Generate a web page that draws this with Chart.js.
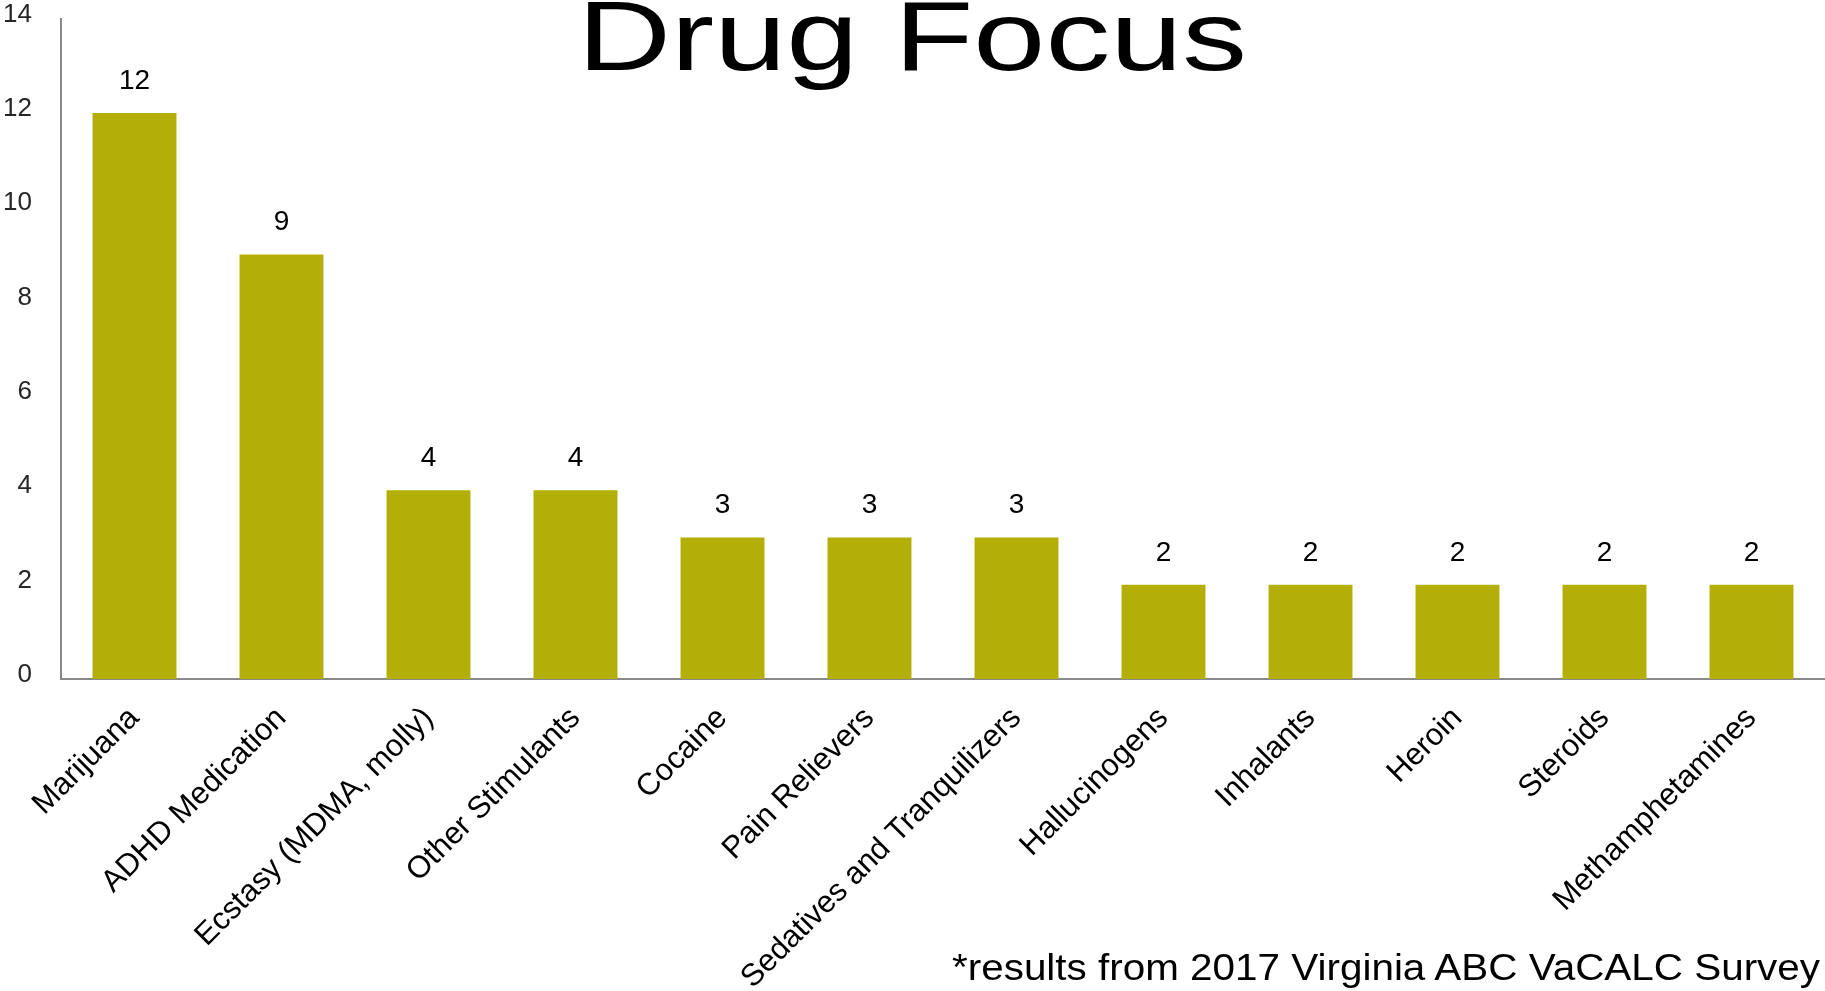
<!DOCTYPE html>
<html>
<head>
<meta charset="utf-8">
<title>Drug Focus</title>
<script src="https://cdn.jsdelivr.net/npm/chart.js@4.4.0/dist/chart.umd.min.js"></script>
<style>
  html, body { margin: 0; padding: 0; background: #fff; overflow: hidden; }
  #wrap { position: relative; width: 1825px; height: 991px; }
  #title {
    position: absolute; left: 0; top: -13px; width: 1825px;
    text-align: center; white-space: nowrap;
    font-family: "Liberation Sans", Arial, sans-serif; font-size: 98px; line-height: 1;
    color: #000; pointer-events: none;
  }
  #title span, #note span { display: inline-block; }
  #note {
    position: absolute; right: 5px; top: 950px; white-space: nowrap;
    font-family: "Liberation Sans", Arial, sans-serif; font-size: 36px; line-height: 1;
    color: #000; pointer-events: none;
  }
</style>
</head>
<body>
<div id="wrap">
  <canvas id="drugChart"></canvas>
  <div id="title"><span>Drug Focus</span></div>
  <div id="note"><span>*results from 2017 Virginia ABC VaCALC Survey</span></div>
</div>
<script>
const categories = [
  "Marijuana",
  "ADHD Medication",
  "Ecstasy (MDMA, molly)",
  "Other Stimulants",
  "Cocaine",
  "Pain Relievers",
  "Sedatives and Tranquilizers",
  "Hallucinogens",
  "Inhalants",
  "Heroin",
  "Steroids",
  "Methamphetamines"
];
const counts = [12, 9, 4, 4, 3, 3, 3, 2, 2, 2, 2, 2];
const yTicks = [0, 2, 4, 6, 8, 10, 12, 14];

// the title and footnote in the picture are stretched sideways
function stretchTo(id, width) {
  const span = document.querySelector("#" + id + " span");
  const k = width / span.offsetWidth;
  span.style.transform = "scaleX(" + k + ")";
  span.style.transformOrigin = id === "note" ? "right top" : "center top";
}
stretchTo("title", 670);
stretchTo("note", 868);

// value above each bar
const barValueLabels = {
  id: "barValueLabels",
  afterDatasetsDraw(chart) {
    const ctx = chart.ctx;
    const meta = chart.getDatasetMeta(0);
    ctx.save();
    ctx.font = '28px "Liberation Sans", Arial, sans-serif';
    ctx.fillStyle = "#000";
    ctx.textAlign = "center";
    ctx.textBaseline = "alphabetic";
    meta.data.forEach((bar, i) => {
      ctx.fillText(String(counts[i]), bar.x, bar.y - 24);
    });
    ctx.restore();
  }
};

const axisFont = '"Liberation Sans", Arial, sans-serif';

new Chart(document.getElementById("drugChart").getContext("2d"), {
  type: "bar",
  data: {
    labels: categories,
    datasets: [
      {
        label: "Drug Focus",
        data: counts,
        backgroundColor: "#b3af08",
        borderWidth: 0,
        categoryPercentage: 1,
        barPercentage: 0.571
      }
    ]
  },
  options: {
    responsive: true,
    maintainAspectRatio: false,
    animation: false,
    layout: { padding: { top: 18, left: 0, right: 0, bottom: 0 } },
    plugins: {
      legend: { display: false },
      title: { display: false },
      tooltip: { enabled: false }
    },
    scales: {
      x: {
        grid: { display: false, tickLength: 8 },
        border: { color: "#898989", width: 2 },
        ticks: {
          color: "#000",
          font: { family: axisFont, size: 31 },
          minRotation: 45,
          maxRotation: 45,
          autoSkip: false,
          padding: 13
        },
        afterFit: (scale) => { scale.height = 312; }
      },
      y: {
        min: 0,
        max: 14,
        // tick marks are hidden; their length only pushes labels away from the axis
        grid: { display: false, tickLength: 26 },
        border: { color: "#898989", width: 2 },
        ticks: {
          color: "#262626",
          font: { family: axisFont, size: 26 },
          padding: 3,
          labelOffset: -4
        },
        afterBuildTicks: (scale) => { scale.ticks = yTicks.map((v) => ({ value: v })); },
        afterFit: (scale) => { scale.width = 61; }
      }
    }
  },
  plugins: [barValueLabels]
});
</script>
</body>
</html>
